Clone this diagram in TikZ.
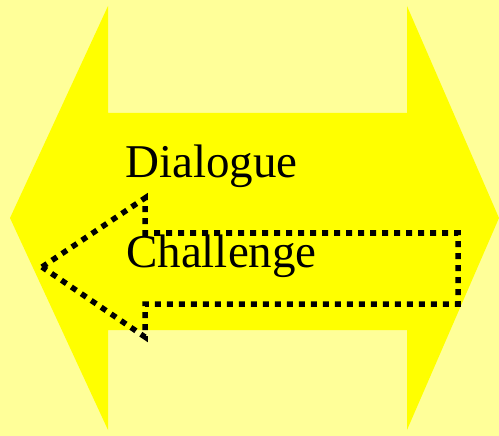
\documentclass[tikz,border=0pt]{standalone}
\usepackage{fontspec}
\setmainfont{Liberation Serif}
\definecolor{paleyellow}{HTML}{FFFF99}
\definecolor{bigyellow}{HTML}{FFFF00}
\tikzset{
  lbl/.style={anchor=base west, inner sep=0pt, font=\fontsize{47}{52}\selectfont},
  dotline/.style={draw=black, line width=5.5pt, dash pattern=on 6pt off 6pt, line join=miter}
}
\begin{document}
\begin{tikzpicture}[x=1pt,y=-1pt]
  \fill[paleyellow] (0,0) rectangle (499,436);
  \useasboundingbox (0,0) rectangle (499,436);
  % big double arrow
  \fill[bigyellow] (10,218) -- (108,6) -- (108,113) -- (407,113) -- (407,6)
    -- (499,218) -- (407,430) -- (407,330) -- (108,330) -- (108,430) -- cycle;
  % dotted left arrow
  \draw[dotline] (42,267) -- (145,198) -- (145,233) -- (458,233) -- (458,304)
    -- (145,304) -- (145,337) -- cycle;
  \node[lbl] (dlg) at (125,178) {Dialogue};
  \node[lbl] (chl) at (126,268) {Challenge};
\end{tikzpicture}
\end{document}
